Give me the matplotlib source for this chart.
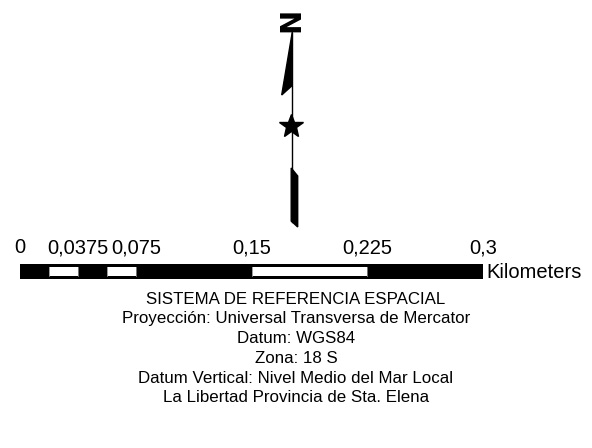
import matplotlib.pyplot as plt
from matplotlib.patches import Polygon, Rectangle

plt.rcParams['font.family'] = ['Liberation Sans', 'DejaVu Sans']

# scale bar data (km)
breaks = [0, 0.01875, 0.0375, 0.05625, 0.075, 0.15, 0.225, 0.3]
fills = ['black', 'white', 'black', 'white', 'black', 'white', 'black']
tick_vals = [0, 0.0375, 0.075, 0.15, 0.225, 0.3]
tick_labels = ['0', '0,0375', '0,075', '0,15', '0,225', '0,3']
units = 'Kilometers'

info_lines = [
    'SISTEMA DE REFERENCIA ESPACIAL',
    'Proyección: Universal Transversa de Mercator',
    'Datum: WGS84',
    'Zona: 18 S',
    'Datum Vertical: Nivel Medio del Mar Local',
    'La Libertad Provincia de Sta. Elena',
]

W, H = 592, 448
fig = plt.figure(figsize=(W / 100, H / 100), dpi=100)

# overlay in pixel coords for north arrow and text
ov = fig.add_axes([0, 0, 1, 1])
ov.set_xlim(0, W)
ov.set_ylim(H, 0)
ov.axis('off')

# north arrow
ov.text(291.5, 20, 'N', rotation=90, ha='center', va='center', fontsize=21,
        fontweight='bold', family='DejaVu Sans')
ov.plot([291.5, 291.5], [33, 222], color='black', lw=1)
ov.add_patch(Polygon([(292.3, 32), (281.7, 95), (291.7, 86)], closed=True, color='black'))
ov.add_patch(Polygon([(291.2, 168), (297.7, 176), (297.7, 227), (291.2, 221)],
                     closed=True, color='black'))
ov.plot([291], [126], marker='*', markersize=18, color='black', mec='black')

# info text
for i, line in enumerate(info_lines):
    ov.text(296, 299 + i * 19.8, line, ha='center', va='center', fontsize=12.2)

# scale bar axes: 0 -> x=20px, 0.3 -> x=483px
x0, x1 = 20, 483
y_top, y_bot = 264, 279
sb = fig.add_axes([x0 / W, 1 - y_bot / H, (x1 - x0) / W, (y_bot - y_top) / H])
sb.set_xlim(breaks[0], breaks[-1])
sb.set_ylim(0, 1)
sb.add_patch(Rectangle((breaks[0], 0), breaks[-1] - breaks[0], 1, color='black', lw=0))
for a, b, c in zip(breaks[:-1], breaks[1:], fills):
    if c == 'white':
        sb.add_patch(Rectangle((a, 0.18), b - a, 0.64, facecolor='white', lw=0))
    sb.plot([b, b], [0.18, 0.82], color='#888888', lw=0.6)
for s in sb.spines.values():
    s.set_visible(False)
sb.set_yticks([])
sb.xaxis.tick_top()
sb.set_xticks(tick_vals)
sb.set_xticklabels(tick_labels, fontsize=14.5)
sb.tick_params(axis='x', length=0, pad=5)
sb.text(1.008, 0.45, units, transform=sb.transAxes, ha='left', va='center', fontsize=14.5)

fig.savefig('out.png', dpi=100)
